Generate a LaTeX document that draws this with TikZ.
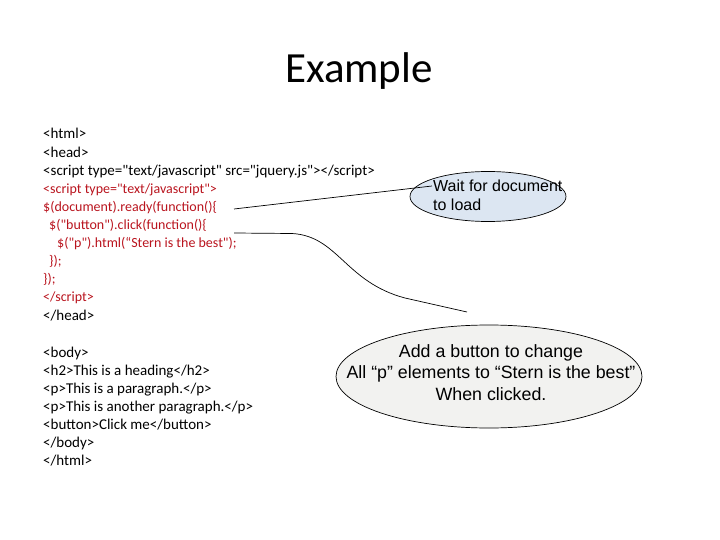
\documentclass[tikz,border=0pt]{standalone}
\usepackage{fontspec}
\setmainfont{Carlito}[Ligatures=TeXOff]
\newfontfamily\calloutfont{Liberation Sans}
\usetikzlibrary{shapes.geometric}

\definecolor{jsred}{RGB}{185,20,30}
\definecolor{waitfill}{RGB}{220,230,242}
\definecolor{clickfill}{RGB}{242,242,240}

\begin{document}
\begin{tikzpicture}[x=1pt, y=-1pt,
				   every node/.style={inner sep=0pt},
				   code/.style={anchor=base west, font=\fontsize{15}{18}\selectfont},
				   jscode/.style={code, text=jsred, font=\fontsize{14}{18}\selectfont},
				   bubble/.style={ellipse, draw=black, line width=0.7pt},
				   calltext/.style={font=\calloutfont\fontsize{16}{19}\selectfont, align=left}]
\useasboundingbox (0,0) rectangle (720,540);
\node[anchor=base, font=\fontsize{43}{50}\selectfont] (title) at (359,83) {Example};
% head part
\node[code]   (html)   at (43,139)   {<html>};
\node[code]   (head)   at (43,157.1) {<head>};
\node[code]   (jquery) at (43,175.2) {<script type="text/javascript" src="jquery.js"></script>};
\node[jscode] (script) at (43,193.3) {<script type="text/javascript">};
\node[jscode] (ready)  at (43,211.4) {\$(document).ready(function()\{};
\node[jscode] (click)  at (49,229.5) {\$("button").click(function()\{};
\node[jscode] (best)   at (57,247.6) {\$("p").html(“Stern is the best");};
\node[jscode] (endclick) at (49,265.7) {\});};
\node[jscode] (endready) at (43,283.8) {\});};
\node[jscode] (endscript) at (43,301.9) {</script>};
\node[code]   (endhead) at (43,320) {</head>};
% body part
\node[code] (body)    at (43,357) {<body>};
\node[code] (heading) at (43,375) {<h2>This is a heading</h2>};
\node[code] (para)    at (43,393) {<p>This is a paragraph.</p>};
\node[code] (para2)   at (43,411) {<p>This is another paragraph.</p>};
\node[code] (button)  at (43,429) {<button>Click me</button>};
\node[code] (endbody) at (43,447) {</body>};
\node[code] (endhtml) at (43,465) {</html>};
% callouts
\node[bubble, fill=waitfill, minimum width=156pt, minimum height=50pt] (wait) at (488,196.5) {};
\node[calltext, anchor=base west] (waittext) at (433,211) {Wait for document\\to load};
\node[bubble, fill=clickfill, minimum width=306pt, minimum height=103pt] (change) at (489,376.5) {};
\node[font=\calloutfont\fontsize{17.8}{21.5}\selectfont, align=center] (changetext) at (491,372.5)
	{Add a button to change\\All “p” elements to “Stern is the best”\\When clicked.};
\coordinate (readyend) at (234,209);
\coordinate (clickend) at (234,233);
\coordinate (waittip) at (432,186);
\coordinate (changetip) at (467,312);
\draw[line width=0.7pt] (readyend) -- (waittip);
\draw[line width=0.7pt] (clickend) -- (292,233.5) .. controls (338,236) and (345,282) .. (405,298) -- (changetip);
\end{tikzpicture}
\end{document}
